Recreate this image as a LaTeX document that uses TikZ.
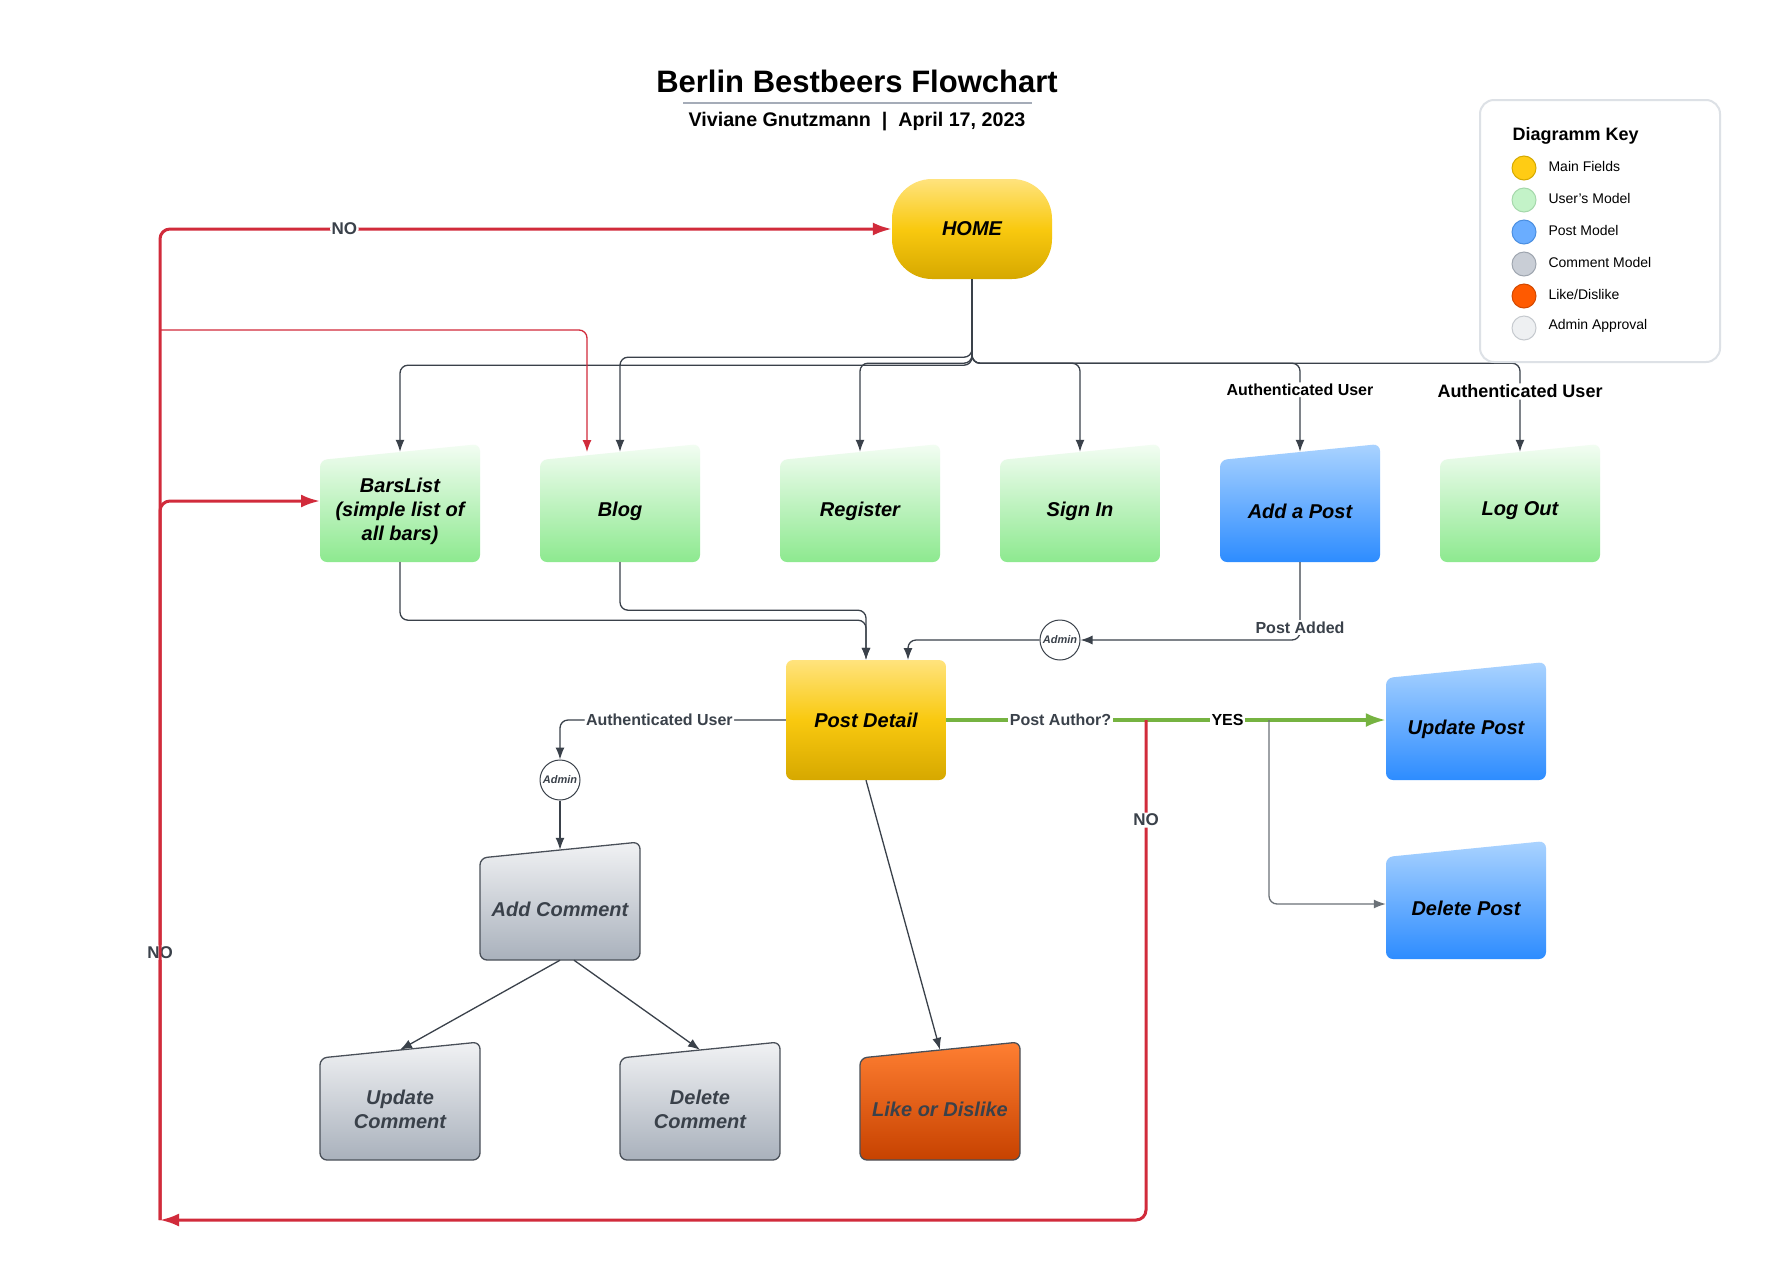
\documentclass[tikz,border=0pt]{standalone}
\usepackage{fontspec}
\setmainfont{Liberation Sans}
\usetikzlibrary{arrows.meta}

\definecolor{ardoise}{HTML}{3A414A}
\definecolor{rouge}{HTML}{D12B3B}
\definecolor{vertl}{HTML}{76B341}
\definecolor{vertH}{HTML}{F3FDF3}
\definecolor{vertB}{HTML}{8DE98F}
\definecolor{bleuH}{HTML}{AAD3FF}
\definecolor{bleuB}{HTML}{2D8CFF}
\definecolor{grisH}{HTML}{F1F2F4}
\definecolor{grisB}{HTML}{A9B1BC}
\definecolor{grisT}{HTML}{4A5059}
\definecolor{orangeH}{HTML}{FF7F32}
\definecolor{orangeB}{HTML}{C74200}
\definecolor{jauneH}{HTML}{FFE37D}
\definecolor{jauneM}{HTML}{F9C90F}
\definecolor{jauneB}{HTML}{D6A800}
\definecolor{ligneT}{HTML}{A5ACB8}
\definecolor{cadre}{HTML}{DDE1E6}

\tikzset{
  boite/.style={minimum width=160pt, minimum height=110pt, inner sep=0pt},
  texte/.style={align=center, font=\fontsize{20}{24}\selectfont\bfseries\itshape},
  fvert/.style={top color=vertH, bottom color=vertB},
  fbleu/.style={top color=bleuH, bottom color=bleuB},
  fgris/.style={top color=grisH, bottom color=grisB, draw=grisT, line width=1.3pt},
  forange/.style={top color=orangeH, bottom color=orangeB, draw=grisT, line width=1.3pt},
  fjaune/.style={top color=jauneH, bottom color=jauneB, middle color=jauneM},
  lien/.style={draw=ardoise, line width=1.3pt, rounded corners=8pt, -{Latex[length=12pt,width=9pt]}},
  non/.style={draw=rouge, line width=3pt, rounded corners=10pt, -{Latex[length=19pt,width=13pt]}},
  nonfin/.style={draw=rouge, line width=1.3pt, rounded corners=8pt, -{Latex[length=12pt,width=9pt]}},
  oui/.style={draw=vertl, line width=3.3pt, -{Latex[length=20pt,width=14pt]}},
  lab/.style={fill=white, inner sep=1.5pt, text=ardoise, font=\fontsize{16}{18}\selectfont\bfseries},
  labno/.style={lab, font=\fontsize{17}{19}\selectfont\bfseries},
  admin/.style={circle, draw=ardoise, line width=1pt, fill=white, minimum size=40pt, inner sep=0pt,
    text=ardoise, font=\fontsize{11}{12}\selectfont\bfseries\itshape},
  cle/.style={circle, minimum size=24pt, inner sep=0pt, line width=1pt},
  item/.style={anchor=west, font=\fontsize{14}{16}\selectfont}
}

% boite a haut incline : nom, x centre, y bas, remplissage, texte
\newcommand{\saisie}[6]{%
  \path[#4, rounded corners=7pt] (#2,#3) -- (#2-80,#3) -- (#2-80,#3-102) -- (#2+80,#3-118) -- (#2+80,#3) -- cycle;
  \node[boite] (#1) at (#2,#3-55) {};
  \node[texte, #5] (#1t) at (#2,#3-51) {#6};}

\begin{document}
\begin{tikzpicture}[x=1pt,y=-1pt]
\useasboundingbox[fill=white] (0,0) rectangle (1787,1266);

\node[font=\fontsize{31}{35}\selectfont\bfseries] (titre) at (857,81) {Berlin Bestbeers Flowchart};%le titre
\draw[ligneT, line width=2pt] (683,103) -- (1032,103);
\node[font=\fontsize{19.7}{22}\selectfont\bfseries] (auteur) at (857,122) {Viviane Gnutzmann~~|~~April 17, 2023};

\node[fjaune, texte, rounded corners=40pt, minimum width=160pt, minimum height=100pt] (home) at (972,229) {HOME};

\saisie{bars}{400}{562}{fvert}{}{BarsList\\(simple list of\\all bars)}%les boites
\saisie{blog}{620}{562}{fvert}{}{Blog}
\saisie{reg}{860}{562}{fvert}{}{Register}
\saisie{sign}{1080}{562}{fvert}{}{Sign In}
\saisie{addp}{1300}{562}{fbleu}{}{Add a Post}
\saisie{logout}{1520}{562}{fvert}{}{Log Out}

\node[boite, texte, fjaune, rounded corners=7pt, minimum height=120pt] (pd) at (866,720) {Post Detail};

\saisie{updp}{1466}{780}{fbleu}{}{Update Post}
\saisie{delp}{1466}{959}{fbleu}{}{Delete Post}
\saisie{addc}{560}{960}{fgris}{text=ardoise}{Add Comment}
\saisie{updc}{400}{1160}{fgris}{text=ardoise}{Update\\Comment}
\saisie{delc}{700}{1160}{fgris}{text=ardoise}{Delete\\Comment}
\saisie{like}{940}{1160}{forange}{text=ardoise}{Like or Dislike}

\node[admin] (adm1) at (1060,640) {Admin};
\node[admin] (adm2) at (560,780) {Admin};

\coordinate (tb) at (160,330);
\coordinate (blogr) at (587,452);
\coordinate (barsr) at (320,501);
\coordinate (dep) at (160,1220);
\coordinate (nonj) at (1146,720);
\coordinate (ouij) at (1269,720);
\coordinate (pdin) at (908,660);

\draw[lien] (home.south) -- ++(0,78) -| (blog.north);%les liens
\draw[lien] (home.south) -- ++(0,86) -| (bars.north);
\draw[lien] (home.south) -- ++(0,84) -| (reg.north);
\draw[lien] (home.south) -- ++(0,84) -| (sign.north);
\draw[lien] (home.south) -- ++(0,84) -| node[lab, pos=0.65, text=black]{Authenticated User} (addp.north);
\draw[lien] (home.south) -- ++(0,84) -| node[lab, pos=0.66, font=\fontsize{18}{20}\selectfont\bfseries, text=black]{Authenticated User} (logout.north);

\draw[lien] (bars.south) -- ++(0,58) -| (pd.north);
\draw[lien] (blog.south) -- ++(0,48) -| (pd.north);
\draw[lien] (addp.south) |- node[lab, pos=0.42]{Post Added} (adm1.east);
\draw[lien] (adm1.west) -| (pdin);

\draw[lien] (pd.west) -| node[lab, pos=0.28]{Authenticated User} (adm2.north);
\draw[lien] (adm2.south) -- (addc.north);
\draw[lien] (addc.south) -- (updc.north);
\draw[lien] (addc.south) ++(14,0) -- (delc.north);
\draw[lien] (pd.south) -- (like.north);

\draw[oui] (pd.east) -- node[lab, pos=0.26]{Post Author?} node[lab, pos=0.64, text=black]{YES} (pd.east -| updp.west);
\draw[lien, draw=ardoise!75] (ouij) |- (delp.west);

\draw[non] (nonj) |- node[labno, pos=0.1]{NO} (dep);%retours
\draw[non] (dep) |- node[labno, pos=0.135]{NO} node[labno, pos=0.626]{NO} (home.west);
\draw[non] (dep) |- (barsr);
\draw[nonfin] (tb) -| (blogr);

\draw[cadre, line width=2pt, rounded corners=14pt] (1480,100) rectangle (1720,362);%la legende
\node[anchor=west, font=\fontsize{18}{20}\selectfont\bfseries] (cletitre) at (1509,136) {Diagramm Key};
\node[cle, fill={rgb,255:red,255;green,204;blue,20}, draw={rgb,255:red,212;green,169;blue,0}] (k1) at (1524,168) {};
\node[item] (t1) at (1545,166) {Main Fields};
\node[cle, fill={rgb,255:red,195;green,243;blue,200}, draw={rgb,255:red,165;green,216;blue,171}] (k2) at (1524,200) {};
\node[item] (t2) at (1545,198) {User's Model};
\node[cle, fill={rgb,255:red,106;green,173;blue,255}, draw={rgb,255:red,74;green,142;blue,224}] (k3) at (1524,232) {};
\node[item] (t3) at (1545,230) {Post Model};
\node[cle, fill={rgb,255:red,201;green,206;blue,214}, draw={rgb,255:red,158;green,165;blue,175}] (k4) at (1524,264) {};
\node[item] (t4) at (1545,262) {Comment Model};
\node[cle, fill={rgb,255:red,255;green,90;blue,0}, draw={rgb,255:red,209;green,72;blue,0}] (k5) at (1524,296) {};
\node[item] (t5) at (1545,294) {Like/Dislike};
\node[cle, fill={rgb,255:red,238;green,240;blue,242}, draw={rgb,255:red,197;green,201;blue,206}] (k6) at (1524,328) {};
\node[item] (t6) at (1545,326) {Admin Approval};

\end{tikzpicture}
\end{document}
